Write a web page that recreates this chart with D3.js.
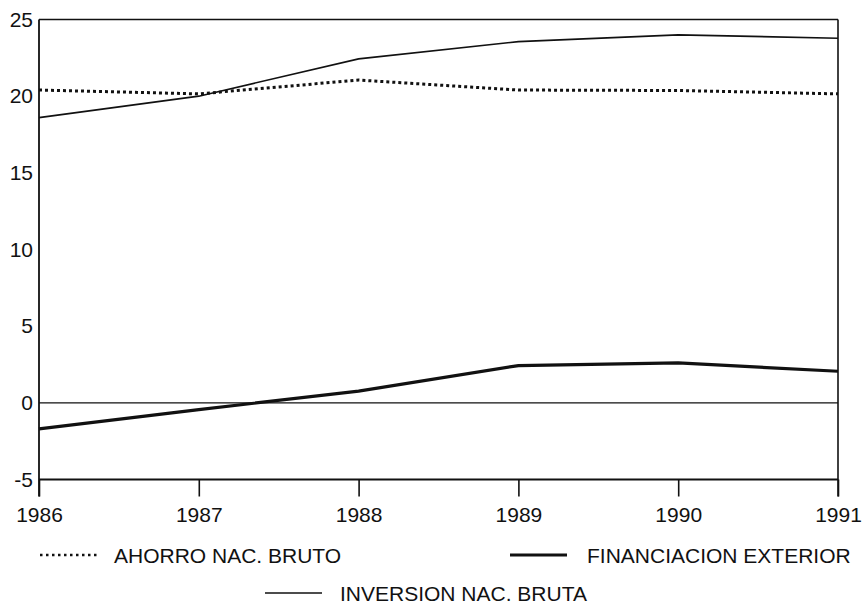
<!DOCTYPE html>
<html><head><meta charset="utf-8">
<script src="https://cdn.jsdelivr.net/npm/d3@7"></script>
<style>
body{margin:0;background:#fff;}
svg{display:block;font-family:"Liberation Sans",Arial,sans-serif;}
</style></head>
<body><svg id="c" width="864" height="605"></svg>
<script>
const years = [1986, 1987, 1988, 1989, 1990, 1991];
const ahorro = [20.4, 20.15, 21.05, 20.4, 20.37, 20.15];
const inversion = [18.6, 20.0, 22.43, 23.56, 24.0, 23.78];
const financiacion = [-1.7, -0.44, 0.76, 2.43, 2.6, 2.06];
const yTicks = [25, 20, 15, 10, 5, 0, -5];
const legendLabels = ["AHORRO NAC. BRUTO", "FINANCIACION EXTERIOR", "INVERSION NAC. BRUTA"];

const svg = d3.select("#c");
const x = d3.scaleLinear().domain([1986, 1991]).range([39, 838]);
const y = d3.scaleLinear().domain([-5, 25]).range([479.5, 19.5]);

// frame lines
svg.append("line").attr("x1", x(1986)).attr("x2", x(1991)).attr("y1", y(25)).attr("y2", y(25))
  .attr("stroke", "#111").attr("stroke-width", 1.6);
svg.append("line").attr("x1", x(1986)).attr("x2", x(1991)).attr("y1", y(0)).attr("y2", y(0))
  .attr("stroke", "#111").attr("stroke-width", 1.3);
svg.append("line").attr("x1", x(1991)).attr("x2", x(1991)).attr("y1", y(25)).attr("y2", y(-5) + 17)
  .attr("stroke", "#111").attr("stroke-width", 1.6);

// x axis at -5
const xAxis = d3.axisBottom(x).tickValues(years).tickFormat(d => String(d)).tickSize(17).tickPadding(11);
const gx = svg.append("g").attr("transform", `translate(0,${y(-5)})`).call(xAxis);
gx.select(".domain").attr("stroke", "#111").attr("stroke-width", 1.8).attr("d", `M${x(1986)},0H${x(1991)}`);
gx.selectAll(".tick line").attr("stroke", "#111").attr("stroke-width", 1.6);
gx.selectAll(".tick text").attr("font-size", 21).attr("fill", "#111").attr("font-family", "Liberation Sans, Arial, sans-serif");

// y axis
const yAxis = d3.axisLeft(y).tickValues(yTicks).tickFormat(d => String(d)).tickSize(0).tickPadding(6);
const gy = svg.append("g").attr("transform", `translate(${x(1986)},0)`).call(yAxis);
gy.select(".domain").attr("stroke", "#111").attr("stroke-width", 1.8).attr("d", `M0,${y(25)}V${y(-5) + 17}`);
gy.selectAll(".tick text").attr("font-size", 21).attr("fill", "#111").attr("font-family", "Liberation Sans, Arial, sans-serif");

const line = d3.line().x((d, i) => x(years[i])).y(d => y(d));

svg.append("path").datum(inversion).attr("d", line).attr("fill", "none")
  .attr("stroke", "#111").attr("stroke-width", 1.6);
svg.append("path").datum(ahorro).attr("d", line).attr("fill", "none")
  .attr("stroke", "#111").attr("stroke-width", 3).attr("stroke-dasharray", "3,3");
svg.append("path").datum(financiacion).attr("d", line).attr("fill", "none")
  .attr("stroke", "#111").attr("stroke-width", 3.2);

// legend
const leg = [
  {x1: 40, x2: 97, tx: 114, ty: 555, w: 2.5, dash: "2.5,3.5", label: legendLabels[0]},
  {x1: 510, x2: 567, tx: 587, ty: 555, w: 3.2, dash: null, label: legendLabels[1]},
  {x1: 265, x2: 322, tx: 340, ty: 593, w: 1.6, dash: null, label: legendLabels[2]}
];
leg.forEach(l => {
  const ln = svg.append("line").attr("x1", l.x1).attr("x2", l.x2).attr("y1", l.ty).attr("y2", l.ty)
    .attr("stroke", "#111").attr("stroke-width", l.w);
  if (l.dash) ln.attr("stroke-dasharray", l.dash);
  svg.append("text").attr("x", l.tx).attr("y", l.ty).attr("dy", "0.36em")
    .attr("font-size", 21).attr("fill", "#111").text(l.label);
});
</script>
</body></html>
